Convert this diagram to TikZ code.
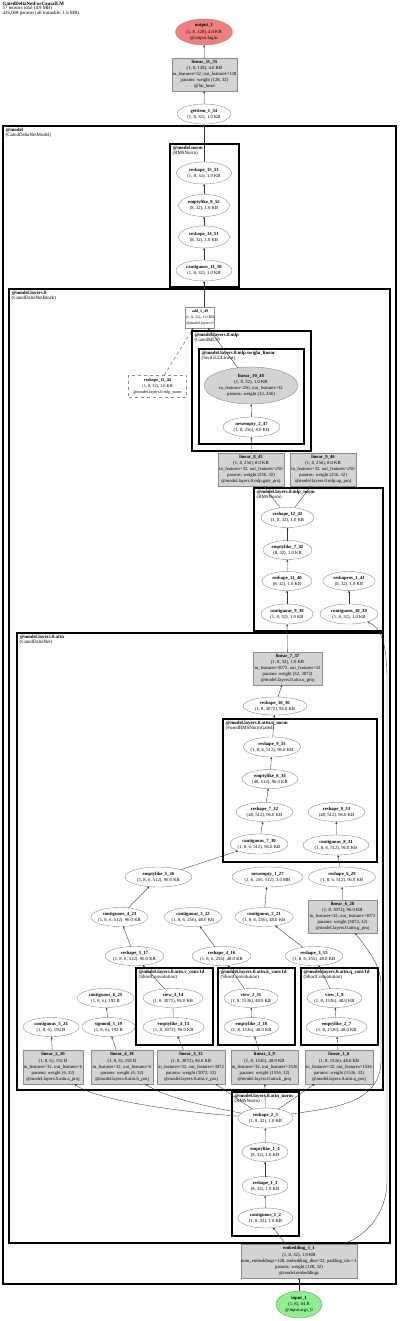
\documentclass[tikz,border=0pt]{standalone}
\usepackage{fontspec}
\setmainfont{Liberation Serif}
\usetikzlibrary{shapes.geometric,arrows.meta}
\definecolor{nodegray}{HTML}{D3D3D3}
\definecolor{outred}{HTML}{F08080}
\definecolor{ingreen}{HTML}{90EE90}
\definecolor{linegray}{HTML}{8C8C8C}
\newcommand{\EL}[7][]{\node[ell,#1,minimum width=#5,minimum height=#6,label={[lbl]center:{#7}}] (#2) at (#3,#4) {};}
\newcommand{\BX}[7][]{\node[gbox,#1,minimum width=#5,minimum height=#6,label={[lbl]center:{#7}}] (#2) at (#3,#4) {};}
\newcommand{\CL}[7]{\draw[#1] (#2,#3) rectangle (#4,#5); \node[clbl] (#6) at (#2+2.5,#3+2) {#7};}
\begin{document}
\begin{tikzpicture}[x=1pt,y=-1pt,
 ell/.style={ellipse,draw=linegray,fill=white,line width=0.4pt,inner sep=0pt,outer sep=0pt},
 gbox/.style={rectangle,draw=linegray,fill=nodegray,line width=0.4pt,inner sep=0pt,outer sep=0pt},
 lbl/.style={align=center,font=\fontsize{4.7}{6.1}\selectfont,inner sep=0pt,outer sep=0pt},
 clbl/.style={align=left,font=\fontsize{4.9}{4.6}\selectfont,inner sep=0pt,anchor=north west},
 clus/.style={draw=black,line width=1.1pt},
 bigclus/.style={draw=black,line width=1.7pt},
 edge/.style={draw=black!80,line width=0.35pt,-{Stealth[length=2.4pt,width=2pt]}},
]
\useasboundingbox (0,0) rectangle (400,1321);
\fill[white] (0,0) rectangle (400,1321);

% title
\node[clbl] (title) at (2.5,1.5) {\textbf{GatedDeltaNetForCausalLM}\\57 tensors total (4.9 MB)\\426,068 params (all trainable, 1.6 MB)};

% clusters
\CL{bigclus}{3}{126}{396}{1284}{cmodel}{\textbf{@model}\\(GatedDeltaNetModel)}
\CL{clus}{170}{144}{239}{287}{cnorm}{\textbf{@model.norm}\\(RMSNorm)}
\CL{bigclus}{9}{289}{390}{1243}{clayer}{\textbf{@model.layers.0}\\(GatedDeltaNetBlock)}
\CL{clus}{192}{331}{311}{451}{cmlp}{\textbf{@model.layers.0.mlp}\\(GatedMLP)}
\CL{clus}{199}{349}{304}{444}{cswig}{\textbf{@model.layers.0.mlp.swiglu\_linear}\\(SwiGLULinear)}
\CL{clus}{254}{488}{383}{631}{cmlpn}{\textbf{@model.layers.0.mlp\_norm}\\(RMSNorm)}
\CL{clus}{17}{633}{383}{1090}{cattn}{\textbf{@model.layers.0.attn}\\(GatedDeltaNet)}
\CL{clus}{223}{719}{377}{862}{conorm}{\textbf{@model.layers.0.attn.o\_norm}\\(FusedRMSNormGated)}
\CL{clus}{136}{968}{213}{1045}{cvconv}{\textbf{@model.layers.0.attn.v\_conv1d}\\(ShortConvolution)}
\CL{clus}{218}{968}{295}{1045}{ckconv}{\textbf{@model.layers.0.attn.k\_conv1d}\\(ShortConvolution)}
\CL{clus}{301}{968}{378}{1045}{cqconv}{\textbf{@model.layers.0.attn.q\_conv1d}\\(ShortConvolution)}
\CL{clus}{232}{1092}{299}{1236}{cattnn}{\textbf{@model.layers.0.attn\_norm}\\(RMSNorm)}

% nodes
\EL[fill=outred]{out}{204}{32}{57}{26}{\textbf{output\_1}\\(1, 8, 128), 4.0 KB\\@output.logits}
\BX{l11}{204.5}{74.5}{65}{33}{\textbf{linear\_11\_55}\\(1, 8, 128), 4.0 KB\\in\_features=32, out\_features=128\\params: weight (128, 32)\\@lm\_head}
\EL{gi}{204}{114}{54}{20}{\textbf{getitem\_1\_54}\\(1, 8, 32), 1.0 KB}
\EL{r15}{204}{173}{55}{22}{\textbf{reshape\_15\_53}\\(1, 8, 32), 1.0 KB}
\EL{e8}{204}{205.5}{51}{22}{\textbf{emptylike\_8\_52}\\(8, 32), 1.0 KB}
\EL{r14}{204}{237}{51}{22}{\textbf{reshape\_14\_51}\\(8, 32), 1.0 KB}
\EL{c11}{204}{270.5}{56}{21}{\textbf{contiguous\_11\_50}\\(1, 8, 32), 1.0 KB}
\node[gbox,fill=white,minimum width=29,minimum height=21,label={[lbl,font=\fontsize{4}{5.8}\selectfont]center:{\textbf{add\_1\_49}\\(1, 8, 32), 1.0 KB\\@model.layers.0}}] (add) at (200,317.5) {};
\node[gbox,fill=white,dashed,minimum width=58,minimum height=22,label={[lbl,font=\fontsize{4.3}{6}\selectfont]center:{\textbf{reshape\_13\_44}\\(1, 8, 32), 1.0 KB\\@model.layers.0.mlp\_norm}}] (r13) at (157.5,386) {};
\EL[fill=nodegray]{l10}{251}{385.5}{94}{37}{\textbf{linear\_10\_48}\\(1, 8, 32), 1.0 KB\\in\_features=256, out\_features=32\\params: weight (32, 256)}
\EL{ne2}{251.5}{427}{57}{20}{\textbf{newempty\_2\_47}\\(1, 8, 256), 8.0 KB}
\BX{l8}{251}{469.5}{66}{33}{\textbf{linear\_8\_45}\\(1, 8, 256), 8.0 KB\\in\_features=32, out\_features=256\\params: weight (256, 32)\\@model.layers.0.mlp.gate\_proj}
\BX{l9}{323}{469.5}{66}{33}{\textbf{linear\_9\_46}\\(1, 8, 256), 8.0 KB\\in\_features=32, out\_features=256\\params: weight (256, 32)\\@model.layers.0.mlp.up\_proj}
\EL{r12}{287.5}{517.5}{53}{20}{\textbf{reshape\_12\_43}\\(1, 8, 32), 1.0 KB}
\EL{e7}{287.5}{550}{49}{19}{\textbf{emptylike\_7\_42}\\(8, 32), 1.0 KB}
\EL{r11}{287}{581}{50}{19}{\textbf{reshape\_11\_40}\\(8, 32), 1.0 KB}
\EL{ra1}{349}{581}{52}{19}{\textbf{reshapeas\_1\_41}\\(8, 32), 1.0 KB}
\EL{c9}{287}{614}{52}{20}{\textbf{contiguous\_9\_38}\\(1, 8, 32), 1.0 KB}
\EL{c10}{349}{614}{58}{20}{\textbf{contiguous\_10\_39}\\(1, 8, 32), 1.0 KB}
\BX{l7}{287.5}{668.5}{69}{33}{\textbf{linear\_7\_37}\\(1, 8, 32), 1.0 KB\\in\_features=3072, out\_features=32\\params: weight (32, 3072)\\@model.layers.0.attn.o\_proj}
\EL{r10}{275}{706}{64}{18}{\textbf{reshape\_10\_36}\\(1, 8, 3072), 96.0 KB}
\EL{r9}{272}{747}{57}{20}{\textbf{reshape\_9\_35}\\(1, 8, 6, 512), 96.0 KB}
\EL{e6}{270}{779}{56}{19}{\textbf{emptylike\_6\_34}\\(48, 512), 96.0 KB}
\EL{r7}{264.5}{812}{57}{19}{\textbf{reshape\_7\_32}\\(48, 512), 96.0 KB}
\EL{r8}{336.5}{812}{57}{19}{\textbf{reshape\_8\_33}\\(48, 512), 96.0 KB}
\EL{c7}{259}{844}{58}{20}{\textbf{contiguous\_7\_30}\\(1, 8, 6, 512), 96.0 KB}
\EL{c8}{336}{845}{66}{20}{\textbf{contiguous\_8\_31}\\(1, 8, 6, 512), 96.0 KB}
\EL{e5}{158.5}{877}{67}{20}{\textbf{emptylike\_5\_26}\\(1, 8, 6, 512), 96.0 KB}
\EL{ne1}{267.5}{877}{71}{20}{\textbf{newempty\_1\_27}\\(1, 6, 256, 512), 3.0 MB}
\EL{r6}{342}{877}{67}{20}{\textbf{reshape\_6\_29}\\(1, 8, 6, 512), 96.0 KB}
\BX{l6}{342.5}{916.5}{69}{33}{\textbf{linear\_6\_28}\\(1, 8, 3072), 96.0 KB\\in\_features=32, out\_features=3072\\params: weight (3072, 32)\\@model.layers.0.attn.g\_proj}
\EL{c4}{119.5}{917}{57}{19}{\textbf{contiguous\_4\_23}\\(1, 8, 6, 512), 96.0 KB}
\EL{c3}{193}{917}{58}{19}{\textbf{contiguous\_3\_22}\\(1, 8, 6, 256), 48.0 KB}
\EL{c2}{264}{917}{58}{19}{\textbf{contiguous\_2\_21}\\(1, 8, 6, 256), 48.0 KB}
\EL{r5}{134.5}{956}{59}{19}{\textbf{reshape\_5\_17}\\(1, 8, 6, 512), 96.0 KB}
\EL{r4}{221.5}{956}{59}{19}{\textbf{reshape\_4\_16}\\(1, 8, 6, 256), 48.0 KB}
\EL{r3}{314}{956}{58}{19}{\textbf{reshape\_3\_15}\\(1, 8, 6, 256), 48.0 KB}
\EL{v3}{173}{998}{60}{19}{\textbf{view\_3\_14}\\(1, 8, 3072), 96.0 KB}
\EL{v2}{251}{998}{54}{19}{\textbf{view\_2\_11}\\(1, 8, 1536), 48.0 KB}
\EL{v1}{334.5}{998}{55}{19}{\textbf{view\_1\_8}\\(1, 8, 1536), 48.0 KB}
\EL{c6}{105.5}{998}{57}{19}{\textbf{contiguous\_6\_25}\\(1, 8, 6), 192 B}
\EL{e4}{173.5}{1027}{61}{19}{\textbf{emptylike\_4\_13}\\(1, 8, 3072), 96.0 KB}
\EL{e3}{251.5}{1027}{55}{19}{\textbf{emptylike\_3\_10}\\(1, 8, 1536), 48.0 KB}
\EL{e2}{336.5}{1027}{61}{19}{\textbf{emptylike\_2\_7}\\(1, 8, 1536), 48.0 KB}
\EL{c5}{51}{1027}{56}{19}{\textbf{contiguous\_5\_24}\\(1, 8, 6), 192 B}
\EL{s1}{108.5}{1027}{53}{19}{\textbf{sigmoid\_1\_19}\\(1, 8, 6), 192 B}
\BX{l5}{53}{1067}{60}{34}{\textbf{linear\_5\_20}\\(1, 8, 6), 192 B\\in\_features=32, out\_features=6\\params: weight (6, 32)\\@model.layers.0.attn.a\_proj}
\BX{l4}{122}{1067}{62}{34}{\textbf{linear\_4\_18}\\(1, 8, 6), 192 B\\in\_features=32, out\_features=6\\params: weight (6, 32)\\@model.layers.0.attn.b\_proj}
\BX{l3}{191}{1067}{68}{34}{\textbf{linear\_3\_12}\\(1, 8, 3072), 96.0 KB\\in\_features=32, out\_features=3072\\params: weight (3072, 32)\\@model.layers.0.attn.v\_proj}
\BX{l2}{264.5}{1067}{67}{34}{\textbf{linear\_2\_9}\\(1, 8, 1536), 48.0 KB\\in\_features=32, out\_features=1536\\params: weight (1536, 32)\\@model.layers.0.attn.k\_proj}
\BX{l1}{339}{1067}{68}{34}{\textbf{linear\_1\_6}\\(1, 8, 1536), 48.0 KB\\in\_features=32, out\_features=1536\\params: weight (1536, 32)\\@model.layers.0.attn.q\_proj}
\EL{r2}{265.5}{1118}{55}{20}{\textbf{reshape\_2\_5}\\(1, 8, 32), 1.0 KB}
\EL{e1}{265}{1152}{46}{19}{\textbf{emptylike\_1\_4}\\(8, 32), 1.0 KB}
\EL{r1}{265}{1186}{46}{19}{\textbf{reshape\_1\_3}\\(8, 32), 1.0 KB}
\EL{c1}{265.5}{1218}{55}{20}{\textbf{contiguous\_1\_2}\\(1, 8, 32), 1.0 KB}
\BX{emb}{299}{1261}{116}{34}{\textbf{embedding\_1\_1}\\(1, 8, 32), 1.0 KB\\num\_embeddings=128, embedding\_dim=32, padding\_idx=-1\\params: weight (128, 32)\\@model.embeddings}
\EL[fill=ingreen]{inp}{299}{1304.5}{46}{27}{\textbf{input\_1}\\(1, 8), 64 B\\@input.args\_0}

% edges
\draw[edge] (l11) -- (out);
\draw[edge] (gi) -- (l11);
\draw[edge] (r15) -- (gi);
\draw[edge] (e8) -- (r15);
\draw[edge] (r14) -- (e8);
\draw[edge] (c11) -- (r14);
\draw[edge] (add.north -| c11.south) -- (c11);
\draw[edge] (l10) -- (add);
\draw[edge,dashed] (r13) -- (add);
\draw[edge] (ne2) -- (l10);
\draw[edge] (l8) -- (ne2);
\draw[edge] (r12) -- (l8);
\draw[edge] (r12) -- (l9);
\draw[edge] (e7) -- (r12);
\draw[edge] (r11) -- (e7);
\draw[edge] (c9) -- (r11);
\draw[edge] (c10) -- (ra1);
\draw[edge] (l7) -- (c9);
\draw[edge] (r10) -- (l7);
\draw[edge] (r9) -- (r10);
\draw[edge] (e6) -- (r9);
\draw[edge] (r7) -- (e6);
\draw[edge] (c7) -- (r7);
\draw[edge] (c8) -- (r8);
\draw[edge] (e5) -- (c7);
\draw[edge] (r6) -- (c8);
\draw[edge] (l6) -- (r6);
\draw[edge] (c4) -- (e5);
\draw[edge] (c2) -- (ne1);
\draw[edge] (r5) -- (c4);
\draw[edge] (r4) -- (c3);
\draw[edge] (r3) -- (c2);
\draw[edge] (v3) -- (r5);
\draw[edge] (v2) -- (r4);
\draw[edge] (v1) -- (r3);
\draw[edge,draw=black!25,line width=1pt] (e4) -- (v3);
\draw[edge] (e3) -- (v2);
\draw[edge] (e2) -- (v1);
\draw[edge] (s1) -- (c6);
\draw[edge] (l5) -- (c5);
\draw[edge] (l4) -- (s1);
\draw[edge] (l3) -- (e4);
\draw[edge] (l2) -- (e3);
\draw[edge] (l1) -- (e2);
\draw[edge] (r2) .. controls (180,1112) and (95,1100) .. (l5);
\draw[edge] (r2) .. controls (215,1108) and (165,1098) .. (l4);
\draw[edge] (r2) -- (l3);
\draw[edge] (r2) -- (l2);
\draw[edge] (r2) -- (l1);
\draw[edge] (r2) .. controls (330,1108) and (381,1105) .. (381,1060) -- (381,985) .. controls (381,965) and (368,950) .. (l6);
\draw[edge] (e1) -- (r2);
\draw[edge] (r1) -- (e1);
\draw[edge] (c1) -- (r1);
\draw[edge] (emb) -- (c1);
\draw[edge] (emb) .. controls (365,1236) and (387,1215) .. (387,1180) -- (387,680) .. controls (387,645) and (382,628) .. (c10);
\draw[edge] (inp) -- (emb);
\end{tikzpicture}
\end{document}
